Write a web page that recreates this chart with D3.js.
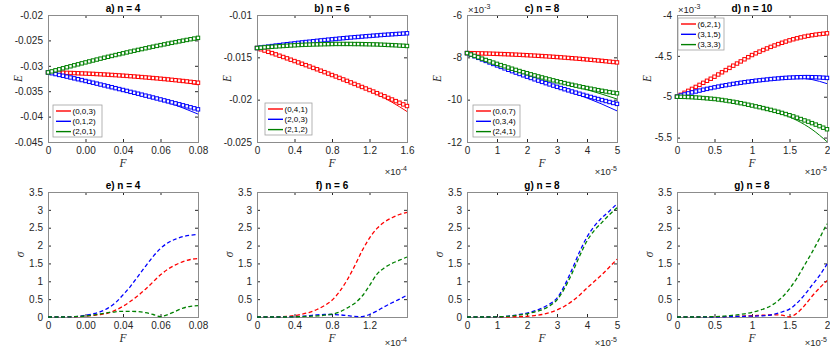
<!DOCTYPE html>
<html>
<head>
<meta charset="utf-8">
<script src="https://cdn.jsdelivr.net/npm/d3@7"></script>
<style>
  body { margin: 0; background: #fff; }
  svg { display: block; font-family: "Liberation Sans", Arial, sans-serif; }
  .axis text { fill: #262626; font-size: 10px; }
  .axis line { stroke: #262626; }
  .title { font-weight: bold; font-size: 10px; fill: #000; }
  .alabel { font-family: "Liberation Serif", "Times New Roman", serif; font-style: italic; font-size: 11.5px; fill: #262626; }
  .expo { font-size: 9.5px; fill: #262626; }
  .legend text { font-size: 8px; fill: #000; }
</style>
</head>
<body>
<svg id="chart" width="830" height="350"></svg>
<script>
// F grids (markers: 41 pts, lines: 11 pts, sigma: 21 pts); b/f in 1e-4, c/d/g/h in 1e-5
const F_A = [0,0.002,0.004,0.006,0.008,0.01,0.012,0.014,0.016,0.018,0.02,0.022,0.024,0.026,0.028,0.03,0.032,0.034,0.036,0.038,0.04,0.042,0.044,0.046,0.048,0.05,0.052,0.054,0.056,0.058,0.06,0.062,0.064,0.066,0.068,0.07,0.072,0.074,0.076,0.078,0.08];
const F_B = [0,0.04,0.08,0.12,0.16,0.2,0.24,0.28,0.32,0.36,0.4,0.44,0.48,0.52,0.56,0.6,0.64,0.68,0.72,0.76,0.8,0.84,0.88,0.92,0.96,1,1.04,1.08,1.12,1.16,1.2,1.24,1.28,1.32,1.36,1.4,1.44,1.48,1.52,1.56,1.6];
const F_C = [0,0.125,0.25,0.375,0.5,0.625,0.75,0.875,1,1.125,1.25,1.375,1.5,1.625,1.75,1.875,2,2.125,2.25,2.375,2.5,2.625,2.75,2.875,3,3.125,3.25,3.375,3.5,3.625,3.75,3.875,4,4.125,4.25,4.375,4.5,4.625,4.75,4.875,5];
const F_D = [0,0.05,0.1,0.15,0.2,0.25,0.3,0.35,0.4,0.45,0.5,0.55,0.6,0.65,0.7,0.75,0.8,0.85,0.9,0.95,1,1.05,1.1,1.15,1.2,1.25,1.3,1.35,1.4,1.45,1.5,1.55,1.6,1.65,1.7,1.75,1.8,1.85,1.9,1.95,2];
const F_A_LN = [0,0.008,0.016,0.024,0.032,0.04,0.048,0.056,0.064,0.072,0.08];
const F_B_LN = [0,0.16,0.32,0.48,0.64,0.8,0.96,1.12,1.28,1.44,1.6];
const F_C_LN = [0,0.5,1,1.5,2,2.5,3,3.5,4,4.5,5];
const F_D_LN = [0,0.2,0.4,0.6,0.8,1,1.2,1.4,1.6,1.8,2];
const F_E = [0,0.004,0.008,0.012,0.016,0.02,0.024,0.028,0.032,0.036,0.04,0.044,0.048,0.052,0.056,0.06,0.064,0.068,0.072,0.076,0.08];
const F_F = [0,0.08,0.16,0.24,0.32,0.4,0.48,0.56,0.64,0.72,0.8,0.88,0.96,1.04,1.12,1.2,1.28,1.36,1.44,1.52,1.6];
const F_G = [0,0.25,0.5,0.75,1,1.25,1.5,1.75,2,2.25,2.5,2.75,3,3.25,3.5,3.75,4,4.25,4.5,4.75,5];
const F_H = [0,0.1,0.2,0.3,0.4,0.5,0.6,0.7,0.8,0.9,1,1.1,1.2,1.3,1.4,1.5,1.6,1.7,1.8,1.9,2];

// Energies, in units of 1e-3
const E_A_RED_MK = [-31.30,-31.32,-31.33,-31.35,-31.37,-31.39,-31.41,-31.44,-31.47,-31.50,-31.53,-31.56,-31.59,-31.63,-31.67,-31.71,-31.75,-31.80,-31.84,-31.89,-31.94,-31.99,-32.05,-32.10,-32.16,-32.22,-32.28,-32.34,-32.41,-32.47,-32.54,-32.61,-32.68,-32.76,-32.83,-32.91,-32.99,-33.07,-33.16,-33.24,-33.33];
const E_A_RED_LN = [-31.30,-31.37,-31.47,-31.59,-31.75,-31.95,-32.17,-32.45,-32.78,-33.20,-33.75];
const E_A_BLUE_MK = [-31.30,-31.46,-31.63,-31.80,-31.96,-32.13,-32.30,-32.47,-32.64,-32.81,-32.99,-33.16,-33.33,-33.51,-33.69,-33.86,-34.04,-34.22,-34.40,-34.58,-34.76,-34.94,-35.13,-35.31,-35.49,-35.68,-35.87,-36.05,-36.24,-36.43,-36.62,-36.81,-37.00,-37.20,-37.39,-37.58,-37.78,-37.98,-38.17,-38.37,-38.57];
const E_A_BLUE_LN = [-31.30,-31.96,-32.64,-33.33,-34.04,-34.77,-35.53,-36.34,-37.23,-38.30,-39.50];
const E_A_GREEN_MK = [-31.30,-31.10,-30.89,-30.69,-30.49,-30.29,-30.10,-29.90,-29.71,-29.52,-29.33,-29.14,-28.96,-28.77,-28.59,-28.41,-28.23,-28.06,-27.88,-27.71,-27.54,-27.37,-27.20,-27.04,-26.87,-26.71,-26.55,-26.39,-26.24,-26.08,-25.93,-25.78,-25.63,-25.48,-25.34,-25.19,-25.05,-24.91,-24.77,-24.64,-24.50];
const E_A_GREEN_LN = [-31.30,-30.49,-29.71,-28.96,-28.23,-27.54,-26.87,-26.24,-25.63,-25.05,-24.50];

const E_B_RED_MK = [-13.90,-14.05,-14.20,-14.35,-14.50,-14.65,-14.81,-14.96,-15.12,-15.28,-15.44,-15.60,-15.76,-15.92,-16.08,-16.25,-16.41,-16.58,-16.75,-16.92,-17.09,-17.26,-17.43,-17.61,-17.78,-17.96,-18.14,-18.32,-18.50,-18.68,-18.86,-19.04,-19.23,-19.42,-19.60,-19.79,-19.98,-20.17,-20.36,-20.56,-20.75];
const E_B_RED_LN = [-13.90,-14.50,-15.12,-15.76,-16.41,-17.09,-17.80,-18.55,-19.37,-20.30,-21.40];
const E_B_BLUE_MK = [-13.90,-13.84,-13.78,-13.73,-13.67,-13.61,-13.56,-13.50,-13.45,-13.40,-13.35,-13.29,-13.24,-13.19,-13.15,-13.10,-13.05,-13.00,-12.96,-12.91,-12.87,-12.83,-12.78,-12.74,-12.70,-12.66,-12.62,-12.59,-12.55,-12.51,-12.48,-12.44,-12.41,-12.37,-12.34,-12.31,-12.28,-12.25,-12.22,-12.19,-12.16];
const E_B_BLUE_LN = [-13.90,-13.67,-13.45,-13.24,-13.05,-12.87,-12.70,-12.55,-12.41,-12.28,-12.16];
const E_B_GREEN_MK = [-13.90,-13.86,-13.82,-13.78,-13.75,-13.72,-13.69,-13.66,-13.63,-13.60,-13.58,-13.55,-13.53,-13.51,-13.50,-13.48,-13.47,-13.46,-13.45,-13.44,-13.43,-13.42,-13.42,-13.42,-13.42,-13.42,-13.43,-13.43,-13.44,-13.45,-13.46,-13.47,-13.48,-13.50,-13.52,-13.54,-13.56,-13.58,-13.61,-13.63,-13.66];
const E_B_GREEN_LN = [-13.90,-13.75,-13.63,-13.53,-13.47,-13.43,-13.42,-13.44,-13.48,-13.56,-13.70];

const E_C_RED_MK = [-7.800,-7.803,-7.807,-7.811,-7.815,-7.820,-7.825,-7.831,-7.837,-7.843,-7.850,-7.857,-7.865,-7.873,-7.881,-7.890,-7.899,-7.909,-7.919,-7.929,-7.940,-7.951,-7.963,-7.975,-7.987,-8.000,-8.013,-8.027,-8.041,-8.055,-8.070,-8.085,-8.101,-8.117,-8.133,-8.150,-8.167,-8.185,-8.203,-8.221,-8.240];
const E_C_RED_LN = [-7.800,-7.815,-7.837,-7.865,-7.899,-7.940,-7.988,-8.043,-8.106,-8.180,-8.280];
const E_C_BLUE_MK = [-7.800,-7.876,-7.950,-8.024,-8.098,-8.170,-8.242,-8.312,-8.382,-8.452,-8.520,-8.588,-8.654,-8.720,-8.786,-8.850,-8.914,-8.976,-9.038,-9.100,-9.160,-9.220,-9.278,-9.336,-9.394,-9.450,-9.506,-9.560,-9.614,-9.668,-9.720,-9.772,-9.822,-9.872,-9.922,-9.970,-10.018,-10.064,-10.110,-10.156,-10.200];
const E_C_BLUE_LN = [-7.800,-8.098,-8.382,-8.654,-8.914,-9.165,-9.410,-9.660,-9.920,-10.210,-10.530];
const E_C_GREEN_MK = [-7.800,-7.867,-7.933,-7.998,-8.062,-8.125,-8.187,-8.248,-8.308,-8.367,-8.425,-8.482,-8.538,-8.593,-8.647,-8.700,-8.752,-8.803,-8.853,-8.902,-8.950,-8.997,-9.043,-9.088,-9.132,-9.175,-9.217,-9.258,-9.298,-9.337,-9.375,-9.412,-9.448,-9.483,-9.517,-9.550,-9.582,-9.613,-9.643,-9.672,-9.700];
const E_C_GREEN_LN = [-7.800,-8.062,-8.308,-8.538,-8.752,-8.955,-9.150,-9.340,-9.530,-9.740,-9.970];

const E_D_RED_MK = [-5.000,-4.976,-4.952,-4.928,-4.904,-4.880,-4.855,-4.830,-4.805,-4.780,-4.755,-4.728,-4.701,-4.674,-4.647,-4.620,-4.594,-4.568,-4.542,-4.516,-4.490,-4.469,-4.448,-4.428,-4.409,-4.390,-4.373,-4.356,-4.340,-4.325,-4.310,-4.297,-4.285,-4.274,-4.264,-4.255,-4.247,-4.240,-4.234,-4.229,-4.224];
const E_D_RED_LN = [-5.000,-4.904,-4.805,-4.701,-4.594,-4.490,-4.409,-4.340,-4.285,-4.247,-4.226];
const E_D_BLUE_MK = [-5.000,-4.985,-4.972,-4.959,-4.947,-4.936,-4.925,-4.914,-4.904,-4.894,-4.885,-4.876,-4.867,-4.859,-4.851,-4.843,-4.836,-4.829,-4.822,-4.816,-4.810,-4.804,-4.799,-4.794,-4.789,-4.784,-4.780,-4.776,-4.772,-4.769,-4.766,-4.764,-4.762,-4.761,-4.760,-4.760,-4.761,-4.762,-4.764,-4.767,-4.770];
const E_D_BLUE_LN = [-5.000,-4.947,-4.904,-4.867,-4.836,-4.810,-4.790,-4.775,-4.772,-4.790,-4.840];
const E_D_GREEN_MK = [-5.000,-5.001,-5.002,-5.004,-5.006,-5.009,-5.012,-5.016,-5.020,-5.024,-5.028,-5.034,-5.040,-5.047,-5.054,-5.062,-5.070,-5.079,-5.088,-5.098,-5.108,-5.118,-5.128,-5.139,-5.150,-5.161,-5.173,-5.185,-5.198,-5.212,-5.226,-5.241,-5.257,-5.273,-5.290,-5.305,-5.323,-5.341,-5.360,-5.379,-5.398];
const E_D_GREEN_LN = [-5.000,-5.006,-5.020,-5.040,-5.070,-5.108,-5.152,-5.210,-5.290,-5.400,-5.550];

// sigma
const S_E_RED = [0,0,0,0.003,0.01,0.025,0.045,0.07,0.11,0.19,0.30,0.44,0.60,0.78,0.98,1.18,1.34,1.46,1.55,1.61,1.64];
const S_E_BLUE = [0,0,0,0.005,0.015,0.05,0.09,0.15,0.25,0.40,0.62,0.86,1.14,1.42,1.69,1.92,2.08,2.18,2.25,2.29,2.31];
const S_E_GREEN = [0,0,0,0.005,0.015,0.03,0.055,0.09,0.12,0.145,0.16,0.16,0.15,0.12,0.07,0.01,0.07,0.16,0.25,0.30,0.32];
const S_F_RED = [0,0,0,0.005,0.02,0.04,0.08,0.13,0.21,0.32,0.47,0.71,1.03,1.42,1.85,2.21,2.48,2.66,2.78,2.87,2.93];
const S_F_BLUE = [0,0,0,0,0.005,0.01,0.02,0.04,0.06,0.07,0.07,0.06,0.04,0.015,0.01,0.07,0.17,0.29,0.40,0.50,0.61];
const S_F_GREEN = [0,0,0,0,0,0.005,0.01,0.02,0.03,0.05,0.08,0.14,0.25,0.38,0.58,0.88,1.20,1.38,1.50,1.59,1.68];
const S_G_RED = [0,0,0,0,0,0,0.005,0.01,0.02,0.04,0.07,0.12,0.20,0.30,0.44,0.61,0.81,1.00,1.19,1.40,1.62];
const S_G_BLUE = [0,0,0,0,0.005,0.015,0.035,0.07,0.11,0.17,0.25,0.36,0.53,0.88,1.33,1.82,2.24,2.55,2.78,2.97,3.17];
const S_G_GREEN = [0,0,0,0,0.005,0.012,0.03,0.06,0.09,0.14,0.20,0.31,0.48,0.80,1.22,1.70,2.13,2.43,2.65,2.87,3.06];
const S_H_RED = [0,0,0,0,0,0.005,0.01,0.015,0.02,0.03,0.035,0.045,0.055,0.06,0.05,0.005,0.11,0.32,0.58,0.81,1.02];
const S_H_BLUE = [0,0,0,0,0,0,0.005,0.01,0.015,0.02,0.025,0.03,0.04,0.08,0.14,0.22,0.39,0.62,0.89,1.16,1.48];
const S_H_GREEN = [0,0,0,0,0.005,0.01,0.02,0.04,0.06,0.09,0.13,0.19,0.26,0.38,0.55,0.79,1.09,1.45,1.81,2.20,2.62];

// ticks and labels
const XT_A = [0, 0.02, 0.04, 0.06, 0.08];
const XL_A = ["0", "0.00", "0.04", "0.06", "0.08"];
const XT_B = [0, 0.4, 0.8, 1.2, 1.6];
const XL_B = ["0", "0.4", "0.8", "1.2", "1.6"];
const XL_F = ["0", "0.4", "0.8", "1.2", ""];
const XT_C = [0, 1, 2, 3, 4, 5];
const XL_C = ["0", "1", "2", "3", "4", "5"];
const XT_D = [0, 0.5, 1, 1.5, 2];
const XL_D = ["0", "0.5", "1", "1.5", "2"];
const YT_A = [-45, -40, -35, -30, -25, -20];
const YL_A = ["-0.045", "-0.04", "-0.035", "-0.03", "-0.025", "-0.02"];
const YT_B = [-25, -20, -15, -10];
const YL_B = ["-0.025", "-0.02", "-0.015", "-0.01"];
const YT_C = [-12, -10, -8, -6];
const YL_C = ["-12", "-10", "-8", "-6"];
const YT_D = [-5.5, -5, -4.5, -4];
const YL_D = ["-5.5", "-5", "-4.5", "-4"];
const YT_S = [0, 0.5, 1, 1.5, 2, 2.5, 3, 3.5];
const YL_S = ["0", "0.5", "1", "1.5", "2", "2.5", "3", "3.5"];

const TITLES = ["a) n = 4", "b) n = 6", "c) n = 8", "d) n = 10", "e) n = 4", "f) n = 6", "g) n = 8", "g) n = 8"];
const LEG_A = ["(0,0,3)", "(0,1,2)", "(2,0,1)"];
const LEG_B = ["(0,4,1)", "(2,0,3)", "(2,1,2)"];
const LEG_C = ["(0,0,7)", "(0,3,4)", "(2,4,1)"];
const LEG_D = ["(6,2,1)", "(3,1,5)", "(3,3,3)"];

const COLORS = { red: "#ff0000", blue: "#0000ff", green: "#008000" };

const svg = d3.select("#chart");
svg.append("rect").attr("width", 830).attr("height", 350).attr("fill", "#fff");

const COLS = [48, 257, 467, 677];
const W = 150;
const TOP = { y: 15, h: 127 };
const BOT = { y: 192, h: 125 };

const panels = [
  { row: TOP, col: 0, title: TITLES[0], xd: [0, 0.08], xt: XT_A, xl: XL_A, yd: [-45, -20], yt: YT_A, yl: YL_A, ylab: "E",
    legend: { x: 53, y: 105, w: 49, labels: LEG_A },
    series: [
      { c: COLORS.red, lx: F_A_LN, ly: E_A_RED_LN, mx: F_A, my: E_A_RED_MK },
      { c: COLORS.blue, lx: F_A_LN, ly: E_A_BLUE_LN, mx: F_A, my: E_A_BLUE_MK },
      { c: COLORS.green, lx: F_A_LN, ly: E_A_GREEN_LN, mx: F_A, my: E_A_GREEN_MK }] },
  { row: TOP, col: 1, title: TITLES[1], xd: [0, 1.6], xt: XT_B, xl: XL_B, yd: [-25, -10], yt: YT_B, yl: YL_B, ylab: "E", xexp: "-4",
    legend: { x: 265, y: 103, w: 47, labels: LEG_B },
    series: [
      { c: COLORS.red, lx: F_B_LN, ly: E_B_RED_LN, mx: F_B, my: E_B_RED_MK },
      { c: COLORS.blue, lx: F_B_LN, ly: E_B_BLUE_LN, mx: F_B, my: E_B_BLUE_MK },
      { c: COLORS.green, lx: F_B_LN, ly: E_B_GREEN_LN, mx: F_B, my: E_B_GREEN_MK }] },
  { row: TOP, col: 2, title: TITLES[2], xd: [0, 5], xt: XT_C, xl: XL_C, yd: [-12, -6], yt: YT_C, yl: YL_C, ylab: "E", xexp: "-5", yexp: "-3",
    legend: { x: 473, y: 105, w: 47, labels: LEG_C },
    series: [
      { c: COLORS.red, lx: F_C_LN, ly: E_C_RED_LN, mx: F_C, my: E_C_RED_MK },
      { c: COLORS.blue, lx: F_C_LN, ly: E_C_BLUE_LN, mx: F_C, my: E_C_BLUE_MK },
      { c: COLORS.green, lx: F_C_LN, ly: E_C_GREEN_LN, mx: F_C, my: E_C_GREEN_MK }] },
  { row: TOP, col: 3, title: TITLES[3], xd: [0, 2], xt: XT_D, xl: XL_D, yd: [-5.554, -4], yt: YT_D, yl: YL_D, ylab: "E", xexp: "-5", yexp: "-3",
    legend: { x: 678, y: 18, w: 46, labels: LEG_D },
    series: [
      { c: COLORS.red, lx: F_D_LN, ly: E_D_RED_LN, mx: F_D, my: E_D_RED_MK },
      { c: COLORS.blue, lx: F_D_LN, ly: E_D_BLUE_LN, mx: F_D, my: E_D_BLUE_MK },
      { c: COLORS.green, lx: F_D_LN, ly: E_D_GREEN_LN, mx: F_D, my: E_D_GREEN_MK }] },
  { row: BOT, col: 0, title: TITLES[4], xd: [0, 0.08], xt: XT_A, xl: XL_A, yd: [0, 3.5], yt: YT_S, yl: YL_S, ylab: "\u03c3", dashed: true,
    series: [
      { c: COLORS.red, lx: F_E, ly: S_E_RED },
      { c: COLORS.blue, lx: F_E, ly: S_E_BLUE },
      { c: COLORS.green, lx: F_E, ly: S_E_GREEN }] },
  { row: BOT, col: 1, title: TITLES[5], xd: [0, 1.6], xt: XT_B, xl: XL_F, yd: [0, 3.5], yt: YT_S, yl: YL_S, ylab: "\u03c3", dashed: true, xexp: "-4",
    series: [
      { c: COLORS.red, lx: F_F, ly: S_F_RED },
      { c: COLORS.blue, lx: F_F, ly: S_F_BLUE },
      { c: COLORS.green, lx: F_F, ly: S_F_GREEN }] },
  { row: BOT, col: 2, title: TITLES[6], xd: [0, 5], xt: XT_C, xl: XL_C, yd: [0, 3.5], yt: YT_S, yl: YL_S, ylab: "\u03c3", dashed: true, xexp: "-5",
    series: [
      { c: COLORS.red, lx: F_G, ly: S_G_RED },
      { c: COLORS.blue, lx: F_G, ly: S_G_BLUE },
      { c: COLORS.green, lx: F_G, ly: S_G_GREEN }] },
  { row: BOT, col: 3, title: TITLES[7], xd: [0, 2], xt: XT_D, xl: XL_D, yd: [0, 3.5], yt: YT_S, yl: YL_S, ylab: "\u03c3", dashed: true, xexp: "-5",
    series: [
      { c: COLORS.red, lx: F_H, ly: S_H_RED },
      { c: COLORS.blue, lx: F_H, ly: S_H_BLUE },
      { c: COLORS.green, lx: F_H, ly: S_H_GREEN }] },
];

function exponent(sel, x, y, pow, anchor) {
  const t = sel.append("text").attr("class", "expo")
    .attr("x", x).attr("y", y).attr("text-anchor", anchor);
  t.append("tspan").text("\u00d710");
  t.append("tspan").attr("dy", -4).attr("font-size", "7px").text(pow);
}

function drawPanel(p) {
  const x0 = COLS[p.col], y0 = p.row.y, h = p.row.h;
  const g = svg.append("g").attr("transform", `translate(${x0},${y0})`);
  const x = d3.scaleLinear().domain(p.xd).range([0, W]);
  const y = d3.scaleLinear().domain(p.yd).range([h, 0]);
  const noDomain = a => a.select(".domain").remove();

  // Akser med innvendige tikk på alle fire sider
  g.append("g").attr("class", "axis").attr("transform", `translate(0,${h})`)
    .call(d3.axisBottom(x).tickValues(p.xt).tickFormat((d, i) => p.xl[i])
      .tickSizeInner(-3).tickSizeOuter(0).tickPadding(5))
    .call(noDomain);
  g.append("g").attr("class", "axis")
    .call(d3.axisTop(x).tickValues(p.xt).tickFormat("").tickSizeInner(-3).tickSizeOuter(0))
    .call(noDomain);
  g.append("g").attr("class", "axis")
    .call(d3.axisLeft(y).tickValues(p.yt).tickFormat((d, i) => p.yl[i])
      .tickSizeInner(-3).tickSizeOuter(0).tickPadding(5))
    .call(noDomain);
  g.append("g").attr("class", "axis").attr("transform", `translate(${W},0)`)
    .call(d3.axisRight(y).tickValues(p.yt).tickFormat("").tickSizeInner(-3).tickSizeOuter(0))
    .call(noDomain);

  g.append("rect").attr("width", W).attr("height", h)
    .attr("fill", "none").attr("stroke", "#8c8c8c").attr("stroke-width", 1)
    .attr("shape-rendering", "crispEdges");

  // Kurver
  const line = d3.line().curve(d3.curveMonotoneX).x(d => x(d[0])).y(d => y(d[1]));
  p.series.forEach(s => {
    const pts = s.lx.map((v, i) => [v, s.ly[i]]);
    g.append("path").datum(pts)
      .attr("fill", "none").attr("stroke", s.c)
      .attr("stroke-width", p.dashed ? 1.3 : 1)
      .attr("stroke-dasharray", p.dashed ? "4,2.5" : null)
      .attr("d", line);
  });
  p.series.filter(s => s.mx).forEach(s => {
    g.append("g").selectAll("rect").data(s.mx.map((v, i) => [v, s.my[i]]))
      .join("rect")
      .attr("x", d => x(d[0]) - 1.7).attr("y", d => y(d[1]) - 1.7)
      .attr("width", 3.4).attr("height", 3.4)
      .attr("fill", "#fff").attr("stroke", s.c).attr("stroke-width", 1);
  });

  // Tittel og aksetitler
  g.append("text").attr("class", "title").attr("x", W / 2).attr("y", -3.5)
    .attr("text-anchor", "middle").text(p.title);
  g.append("text").attr("class", "alabel").attr("x", W / 2).attr("y", h + 25)
    .attr("text-anchor", "middle").text("F");
  g.append("text").attr("class", "alabel")
    .attr("transform", `translate(${p.row === TOP ? -26 : -24},${h / 2}) rotate(-90)`)
    .attr("text-anchor", "middle").text(p.ylab);

  if (p.xexp) exponent(g, W, h + (p.row === TOP ? 33 : 29), p.xexp, "end");
  if (p.yexp) exponent(g, 1, -2, p.yexp, "start");

  // Tegnforklaring
  if (p.legend) {
    const L = p.legend;
    const lg = svg.append("g").attr("class", "legend").attr("transform", `translate(${L.x},${L.y})`);
    lg.append("rect").attr("width", L.w).attr("height", 32)
      .attr("fill", "#fff").attr("stroke", "#a0a0a0").attr("stroke-width", 0.8);
    L.labels.forEach((lab, i) => {
      const ry = 6 + i * 10.3;
      lg.append("line").attr("x1", 3).attr("x2", 18).attr("y1", ry).attr("y2", ry)
        .attr("stroke", p.series[i].c).attr("stroke-width", 1.4);
      lg.append("text").attr("x", 19.5).attr("y", ry + 2.8).text(lab);
    });
  }
}

panels.forEach(drawPanel);
</script>
</body>
</html>
